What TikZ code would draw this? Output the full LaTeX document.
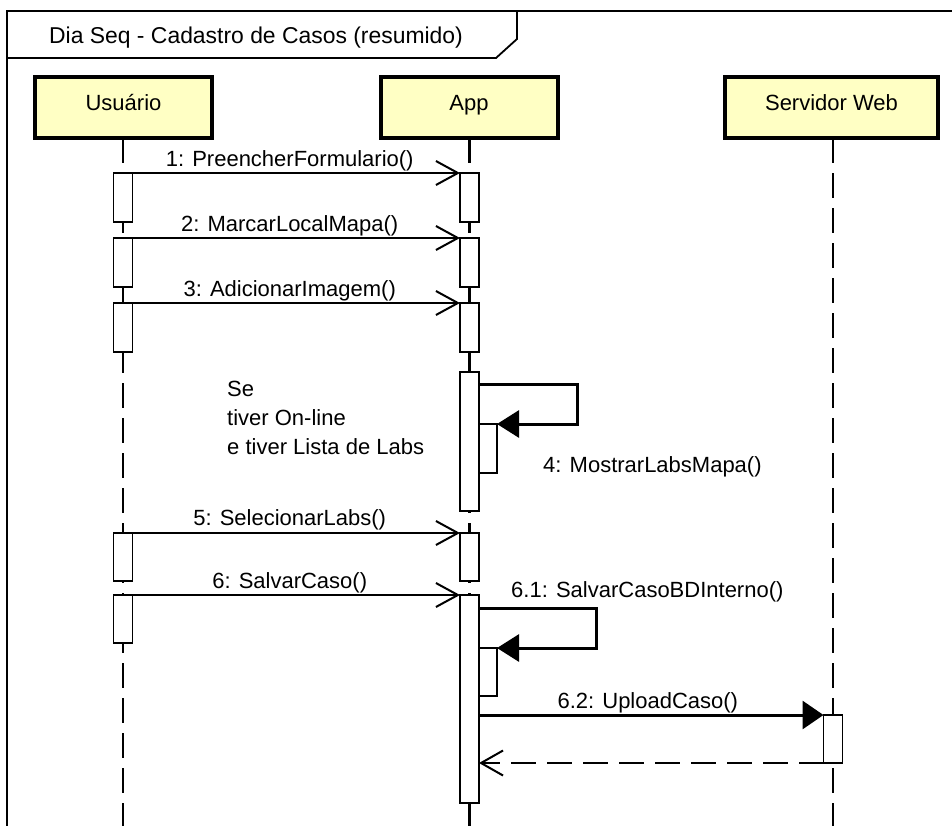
\documentclass[tikz,border=0pt]{standalone}
\usepackage{fontspec}
\setmainfont{Liberation Sans}
\usetikzlibrary{arrows.meta}
\definecolor{lifehead}{HTML}{FFFFC4}

\begin{document}
\begin{tikzpicture}[x=1pt,y=-1pt,
  every node/.style={font=\fontsize{22}{29}\selectfont},
  head/.style={draw, line width=4pt, fill=lifehead, minimum height=61pt,
    inner sep=0pt, outer sep=0pt, text height=14pt, text depth=8pt},
  act/.style={draw, line width=1.3pt, fill=white, minimum width=19pt,
    inner sep=0pt, outer sep=0pt},
  lifeline/.style={line width=2.5pt, dash pattern=on 25pt off 10pt},
  msg/.style={line width=2pt,
    -{Straight Barb[length=22pt,width=24pt,line width=2pt]}},
  selfmsg/.style={line width=3pt, -{Triangle[length=22pt,width=27pt]}},
  call/.style={line width=3pt, -{Triangle[length=21pt,width=28pt]}},
  reply/.style={line width=2pt, dash pattern=on 25pt off 11pt,
    -{Straight Barb[length=22pt,width=25pt,line width=2pt]}},
  lbl/.style={anchor=base, inner sep=0pt},
  txt/.style={anchor=base west, inner sep=0pt}
]
\useasboundingbox (0,0) rectangle (952,825);
\clip (0,0) rectangle (952,825);
\fill[white] (0,0) rectangle (952,825);

% frame and its name tab
\draw[line width=1.8pt] (7,840) -- (7,11) -- (960,11);
\draw[line width=1.8pt] (7,58) -- (496,58) -- (517,39) -- (517,11);
\node[txt, font=\fontsize{22.9}{29}\selectfont] (fname) at (49,43) {Dia Seq - Cadastro de Casos (resumido)};

% lifeline heads
\node[head, minimum width=177pt] (usr) at (123.5,107.5) {Usuário};
\node[head, minimum width=177pt] (app) at (469,107.5) {App};
\node[head, minimum width=213pt] (srv) at (831.5,107.5) {Servidor Web};

\coordinate (bottom) at (0,840);
\coordinate (xu) at (123,0);
\coordinate (xa) at (469.5,0);
\coordinate (xs) at (833,0);

% lifelines
\draw[lifeline] (xu |- usr.south) -- (xu |- bottom);
\draw[lifeline] (xa |- app.south) -- (xa |- bottom);
\draw[lifeline] (xs |- srv.south) -- (xs |- bottom);

% activations of Usuario
\node[act, anchor=north, minimum height=49pt] (u1) at (123,173) {};
\node[act, anchor=north, minimum height=49pt] (u2) at (123,238) {};
\node[act, anchor=north, minimum height=49pt] (u3) at (123,303) {};
\node[act, anchor=north, minimum height=48pt] (u5) at (123,533) {};
\node[act, anchor=north, minimum height=48pt] (u6) at (123,595) {};

% activations of App
\node[act, anchor=north, minimum height=49pt] (a1) at (469.5,173) {};
\node[act, anchor=north, minimum height=49pt] (a2) at (469.5,238) {};
\node[act, anchor=north, minimum height=49pt] (a3) at (469.5,303) {};
\node[act, anchor=north, minimum height=139pt] (a4) at (469.5,372) {};
\node[act, anchor=north, minimum height=48pt] (a5) at (469.5,533) {};
\node[act, anchor=north, minimum height=208pt] (a6) at (469.5,595) {};
\node[act, anchor=north west, minimum width=18pt, minimum height=49pt] (n4) at (479,424) {};
\node[act, anchor=north west, minimum width=18pt, minimum height=48pt] (n6) at (479,648) {};

% activation of Servidor Web
\node[act, anchor=north, minimum height=48pt] (s1) at (833,715) {};

% messages
\draw[msg] (u1.north east) -- node[lbl, pos=0.48, yshift=7pt] {1: PreencherFormulario()} (a1.north west);
\draw[msg] (u2.north east) -- node[lbl, pos=0.48, yshift=7pt] {2: MarcarLocalMapa()} (a2.north west);
\draw[msg] (u3.north east) -- node[lbl, pos=0.48, yshift=7pt] {3: AdicionarImagem()} (a3.north west);
\draw[msg] (u5.north east) -- node[lbl, pos=0.48, yshift=8pt] {5: SelecionarLabs()} (a5.north west);
\draw[msg] (u6.north east) -- node[lbl, pos=0.48, yshift=7pt] {6: SalvarCaso()} (a6.north west);

% guard note
\node[anchor=north west, align=left, inner sep=0pt] (cond) at (227,381)
  {Se\\tiver On-line\\e tiver Lista de Labs};

% self calls
\coordinate (y4) at (0,384);
\draw[selfmsg] (a4.east |- y4) -- (577,384) |- (n4.north east);
\node[txt] (l4) at (543,472) {4: MostrarLabsMapa()};

\coordinate (y61) at (0,608);
\draw[selfmsg] (a6.east |- y61) -- (596,608) |- (n6.north east);
\node[txt] (l61) at (511,597) {6.1: SalvarCasoBDInterno()};

% call to the server and its reply
\draw[call] (a6.east |- s1.north west) -- node[lbl, pos=0.49, yshift=7pt] {6.2: UploadCaso()} (s1.north west);
\draw[reply] (s1.south west) -- (a6.east |- s1.south west);
\end{tikzpicture}
\end{document}
